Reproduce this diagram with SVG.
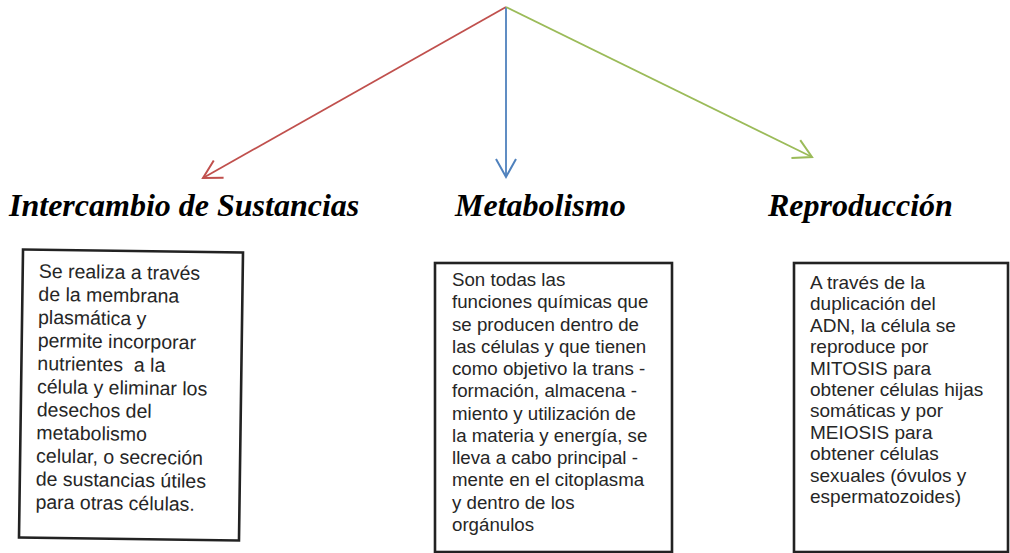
<svg xmlns="http://www.w3.org/2000/svg" width="1010" height="553" viewBox="0 0 1010 553">
<style>
.h{font-family:"Liberation Serif","Times New Roman",serif;font-weight:bold;font-style:italic;font-size:32px;fill:#000}
.box{fill:#fff;stroke:#222;stroke-width:2.6}
.t{font-family:"Liberation Sans",Arial,sans-serif;fill:#262626}
.c{fill:none;stroke-width:1.8}
</style>
<defs>
<marker id="aR" markerUnits="userSpaceOnUse" markerWidth="30" markerHeight="30" viewBox="-25 -15 30 30" refX="0" refY="0" orient="auto"><path d="M-18,-10 L0,0 L-18,10" fill="none" stroke="#C0504D" stroke-width="2"/></marker>
<marker id="aB" markerUnits="userSpaceOnUse" markerWidth="30" markerHeight="30" viewBox="-25 -15 30 30" refX="0" refY="0" orient="auto"><path d="M-18,-10 L0,0 L-18,10" fill="none" stroke="#4F81BD" stroke-width="2"/></marker>
<marker id="aG" markerUnits="userSpaceOnUse" markerWidth="30" markerHeight="30" viewBox="-25 -15 30 30" refX="0" refY="0" orient="auto"><path d="M-18,-10 L0,0 L-18,10" fill="none" stroke="#9BBB59" stroke-width="2"/></marker>
</defs>
<rect width="1010" height="553" fill="#fff"/>
<g id="connectors">
<line class="c" x1="506" y1="7" x2="203" y2="178" stroke="#C0504D" marker-end="url(#aR)"/>
<line class="c" x1="506" y1="7" x2="506" y2="177" stroke="#4F81BD" marker-end="url(#aB)"/>
<line class="c" x1="506" y1="7" x2="812" y2="157" stroke="#9BBB59" marker-end="url(#aG)"/>
</g>
<g id="intercambio">
<text class="h" x="9" y="216">Intercambio de Sustancias</text>
<g transform="rotate(0.8 131 395)">
<rect class="box" x="21" y="251" width="220" height="288"/>
<text class="t" font-size="19.5">
<tspan x="37" y="279">Se realiza a través</tspan>
<tspan x="37" y="302.1">de la membrana</tspan>
<tspan x="37" y="325.2">plasmática y</tspan>
<tspan x="37" y="348.3">permite incorporar</tspan>
<tspan x="37" y="371.4" xml:space="preserve">nutrientes  a la</tspan>
<tspan x="37" y="394.5">célula y eliminar los</tspan>
<tspan x="37" y="417.6">desechos del</tspan>
<tspan x="37" y="440.7">metabolismo</tspan>
<tspan x="37" y="463.8">celular, o secreción</tspan>
<tspan x="37" y="486.9">de sustancias útiles</tspan>
<tspan x="37" y="510">para otras células.</tspan>
</text>
</g>
</g>
<g id="metabolismo">
<text class="h" x="455" y="216">Metabolismo</text>
<rect class="box" x="435" y="263" width="237" height="289"/>
<text class="t" font-size="18.7">
<tspan x="452" y="286">Son todas las</tspan>
<tspan x="452" y="308.3">funciones químicas que</tspan>
<tspan x="452" y="330.5">se producen dentro de</tspan>
<tspan x="452" y="352.8">las células y que tienen</tspan>
<tspan x="452" y="375">como objetivo la trans -</tspan>
<tspan x="452" y="397.3">formación, almacena -</tspan>
<tspan x="452" y="419.5">miento y utilización de</tspan>
<tspan x="452" y="441.8">la materia y energía, se</tspan>
<tspan x="452" y="464">lleva a cabo principal -</tspan>
<tspan x="452" y="486.3">mente en el citoplasma</tspan>
<tspan x="452" y="508.5">y dentro de los</tspan>
<tspan x="452" y="530.8">orgánulos</tspan>
</text>
</g>
<g id="reproduccion">
<text class="h" x="768" y="216">Reproducción</text>
<rect class="box" x="794" y="263" width="214" height="289"/>
<text class="t" font-size="19">
<tspan x="810" y="289">A través de la</tspan>
<tspan x="810" y="310.4">duplicación del</tspan>
<tspan x="810" y="331.8">ADN, la célula se</tspan>
<tspan x="810" y="353.2">reproduce por</tspan>
<tspan x="810" y="374.6">MITOSIS para</tspan>
<tspan x="810" y="396">obtener células hijas</tspan>
<tspan x="810" y="417.4">somáticas y por</tspan>
<tspan x="810" y="438.8">MEIOSIS para</tspan>
<tspan x="810" y="460.2">obtener células</tspan>
<tspan x="810" y="481.6">sexuales (óvulos y</tspan>
<tspan x="810" y="503">espermatozoides)</tspan>
</text>
</g>
</svg>
